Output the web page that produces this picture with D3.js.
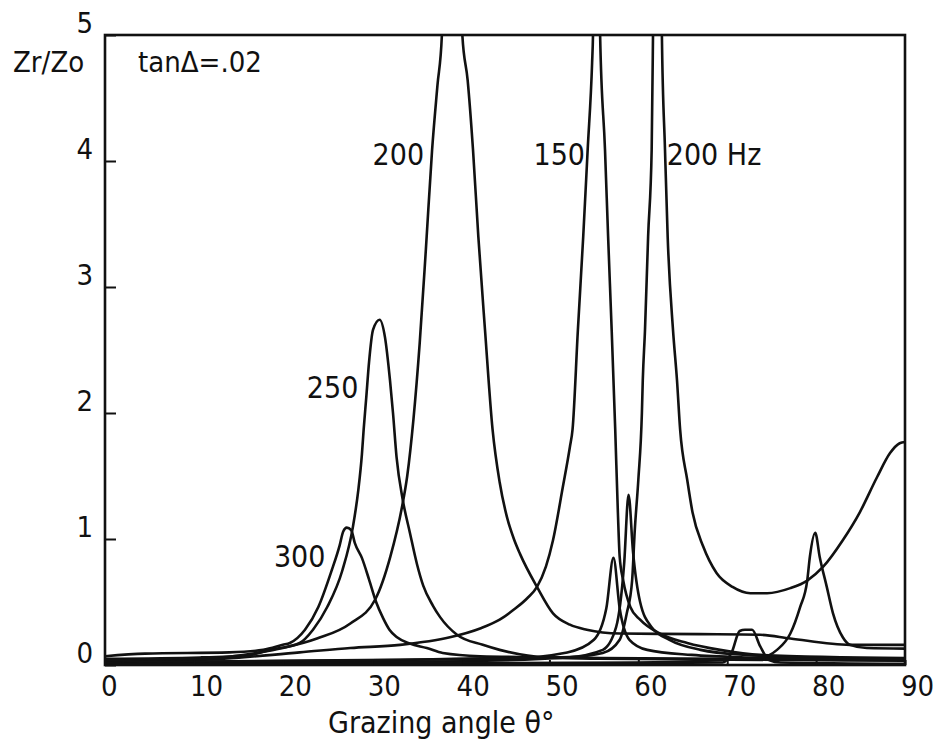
<!DOCTYPE html>
<html>
<head>
<meta charset="utf-8">
<script src="https://cdn.jsdelivr.net/npm/d3@7"></script>
<style>
  body { margin: 0; background: #fff; overflow: hidden; }
  svg { display: block; }
  text { font-family: "DejaVu Sans Condensed", "DejaVu Sans", sans-serif; font-stretch: condensed; fill: #111; }
</style>
</head>
<body>
<svg class="chart" width="940" height="748"></svg>
<script>
// grazing angle (deg) vs Zr/Zo, loss factor tanΔ = .02
const xTicks = [0, 10, 20, 30, 40, 50, 60, 70, 80, 90]
const yTicks = [0, 1, 2, 3, 4, 5]

const f300 = [[0,0.07],[4.5,0.09],[14,0.1],[17.8,0.12],[20.0,0.16],[20.8,0.175],[22.5,0.28],[24.0,0.46],
  [25.5,0.75],[26.4,0.95],[26.8,1.06],[27.2,1.09],[27.7,1.07],[28.1,0.97],[28.9,0.85],[29.7,0.68],[30.5,0.50],
  [31.3,0.37],[32.0,0.28],[32.85,0.22],[34.3,0.17],[36.2,0.135],[38.0,0.095],[42.2,0.07],[55.7,0.056],[90,0.04]]

const f250 = [[0,0.05],[10.7,0.06],[16.3,0.08],[18.6,0.12],[21.9,0.175],[23.4,0.28],[25.0,0.46],[26.7,0.75],
  [27.9,1.10],[28.5,1.39],[28.9,1.67],[29.1,1.87],[29.4,2.13],[29.7,2.40],[30.15,2.66],[30.9,2.74],[31.5,2.60],
  [32.06,2.26],[32.4,2.0],[32.8,1.65],[33.5,1.31],[34.3,1.05],[35.1,0.80],[35.8,0.63],[36.9,0.47],[37.7,0.38],
  [39.6,0.24],[42.5,0.16],[44.4,0.12],[49.7,0.06],[55.7,0.05],[90,0.035]]

const f200a = [[0,0.04],[10.7,0.05],[17.4,0.10],[20.0,0.135],[23.85,0.21],[27.6,0.33],[30.4,0.52],[32.1,0.86],
  [33.4,1.25],[34.0,1.50],[34.7,1.95],[35.4,2.55],[36.1,3.3],[36.8,4.09],[37.4,4.6],[37.9,5.0],
  [39.0,9.0],[40.2,5.0],[40.8,4.64],[41.4,4.09],[42.0,3.40],[42.75,2.66],[43.6,1.87],[44.4,1.45],[45.2,1.18],
  [46.0,1.0],[46.7,0.88],[48.6,0.62],[50.4,0.41],[52.3,0.32],[54.2,0.28],[57.9,0.25],[66.9,0.245],[73.7,0.24],
  [77.1,0.21],[83.8,0.16],[90,0.16]]

const f150 = [[0,0.03],[10.7,0.04],[21.9,0.10],[27.6,0.135],[33.2,0.16],[38.8,0.22],[42.2,0.29],[44.4,0.36],
  [46.0,0.44],[47.5,0.53],[48.6,0.62],[49.6,0.78],[50.4,0.99],[51.5,1.41],[52.3,1.73],[52.6,1.87],[53.2,2.66],
  [53.8,3.40],[54.3,4.09],[54.8,4.78],[54.9,5.0],[55.3,9.0],[55.7,5.0],[56.25,4.09],[56.6,3.40],[57.0,2.66],
  [57.4,1.87],[57.7,1.21],[57.9,0.86],[58.3,0.67],[59.1,0.46],[60.2,0.36],[62.4,0.25],[65.5,0.175],[69.2,0.12],
  [73.7,0.08],[90,0.055]]

const f200b = [[0,0.02],[33.2,0.04],[44.4,0.055],[52.3,0.063],[56.0,0.095],[57.9,0.2],[58.7,0.41],[59.3,0.67],
  [59.6,1.07],[60.0,1.47],[60.4,2.0],[60.5,2.26],[60.75,2.66],[61.1,3.40],[61.5,4.09],[61.65,5.0],[62.15,10.0],
  [62.65,5.0],[63.0,4.09],[63.3,3.40],[63.9,2.66],[64.35,2.26],[64.7,1.87],[65.5,1.47],[66.1,1.21],[67.3,0.94],
  [68.8,0.73],[70.6,0.62],[72.6,0.57],[74.5,0.57],[77.1,0.61],[79.0,0.67],[80.8,0.78],[83.0,0.99],[84.9,1.21],
  [86.85,1.49],[88.3,1.68],[89.4,1.76],[90,1.77]]

// narrow resonances between 55° and 80°
const peak59 = [[0,0.01],[40,0.03],[52,0.06],[56,0.12],[57.5,0.3],[58.4,0.8],[58.9,1.35],[59.4,0.9],[60.2,0.5],
  [61.5,0.3],[63.5,0.2],[67,0.12],[72,0.08],[80,0.06],[90,0.05]]
const peak57 = [[0,0.02],[45,0.05],[52,0.1],[55,0.2],[56.4,0.45],[57.2,0.85],[57.9,0.45],[59,0.2],[61,0.12],
  [66,0.08],[72,0.06],[90,0.04]]
const peak72 = [[0,0.005],[50,0.01],[69.5,0.02],[70.5,0.1],[71.4,0.27],[72.0,0.28],[72.8,0.28],[73.7,0.15],
  [74.7,0.04],[76,0.02],[90,0.01]]
const peak79 = [[0,0.005],[60,0.02],[73.7,0.06],[75.6,0.12],[77.1,0.25],[78.2,0.46],[79.0,0.67],[79.3,0.86],
  [79.9,1.05],[80.4,0.86],[81.2,0.62],[81.9,0.41],[83.0,0.22],[83.8,0.16],[85.7,0.135],[90,0.13]]

const series = [f300, f250, f200a, f150, f200b, peak59, peak57, peak72, peak79]

const svg = d3.select('.chart')
const width = +svg.attr('width')
const height = +svg.attr('height')
const margin = {top:35, right:35, bottom:83, left:105}
const innerWidth = width - margin.left - margin.right
const innerHeight = height - margin.top - margin.bottom

const xScale = d3.scaleLinear().domain([0, 90]).range([0, innerWidth])
const yScale = d3.scaleLinear().domain([0, 5]).range([innerHeight, 0])

const g = svg.append('g')
  .attr('transform', `translate(${margin.left},${margin.top})`)

g.append('clipPath').attr('id', 'plot-clip')
  .append('rect')
  .attr('width', innerWidth)
  .attr('height', innerHeight)

const line = d3.line()
  .x(d => xScale(d[0]))
  .y(d => yScale(d[1]))
  .curve(d3.curveMonotoneX)

g.append('g')
  .attr('clip-path', 'url(#plot-clip)')
  .selectAll('path')
  .data(series)
  .enter()
  .append('path')
  .attr('d', line)
  .attr('fill', 'none')
  .attr('stroke', '#111')
  .attr('stroke-width', 2.6)
  .attr('stroke-linejoin', 'round')

// frame
g.append('rect')
  .attr('width', innerWidth)
  .attr('height', innerHeight)
  .attr('fill', 'none')
  .attr('stroke', '#111')
  .attr('stroke-width', 2.6)

// inward ticks, labels set by hand below
const yAxis = g.append('g').call(d3.axisRight(yScale).tickValues(yTicks).tickSize(11).tickFormat(''))
yAxis.select('.domain').remove()
yAxis.selectAll('line').attr('stroke', '#111').attr('stroke-width', 2)

const xAxis = g.append('g')
  .attr('transform', `translate(0,${innerHeight})`)
  .call(d3.axisTop(xScale).tickValues(xTicks).tickSize(5).tickFormat(''))
xAxis.select('.domain').remove()
xAxis.selectAll('line').attr('stroke', '#111').attr('stroke-width', 2)

g.selectAll('.ylab')
  .data(yTicks)
  .enter()
  .append('text')
  .attr('class', 'ylab')
  .attr('x', -12)
  .attr('y', d => yScale(d) - 2)
  .attr('text-anchor', 'end')
  .attr('font-size', 29)
  .text(d => d)

g.selectAll('.xlab')
  .data(xTicks)
  .enter()
  .append('text')
  .attr('class', 'xlab')
  .attr('x', d => xScale(d) - 4)
  .attr('y', innerHeight + 31)
  .attr('font-size', 29)
  .text(d => d)

svg.append('text')
  .attr('x', 328)
  .attr('y', 733)
  .attr('font-size', 30)
  .text('Grazing angle θ°')

svg.append('text')
  .attr('x', 13)
  .attr('y', 72)
  .attr('font-size', 29)
  .text('Zr/Zo')

svg.append('text')
  .attr('x', 138)
  .attr('y', 72)
  .attr('font-size', 29)
  .text('tanΔ=.02')

// curve labels
const curveLabels = [
  {text:'300', x:24.8, y:0.78, anchor:'end'},
  {text:'250', x:28.5, y:2.12, anchor:'end'},
  {text:'200', x:35.9, y:3.97, anchor:'end'},
  {text:'150', x:54.0, y:3.97, anchor:'end'},
  {text:'200 Hz', x:63.2, y:3.97, anchor:'start'}
]
g.selectAll('.clab')
  .data(curveLabels)
  .enter()
  .append('text')
  .attr('class', 'clab')
  .attr('x', d => xScale(d.x))
  .attr('y', d => yScale(d.y))
  .attr('text-anchor', d => d.anchor)
  .attr('font-size', 30)
  .text(d => d.text)
</script>
</body>
</html>
